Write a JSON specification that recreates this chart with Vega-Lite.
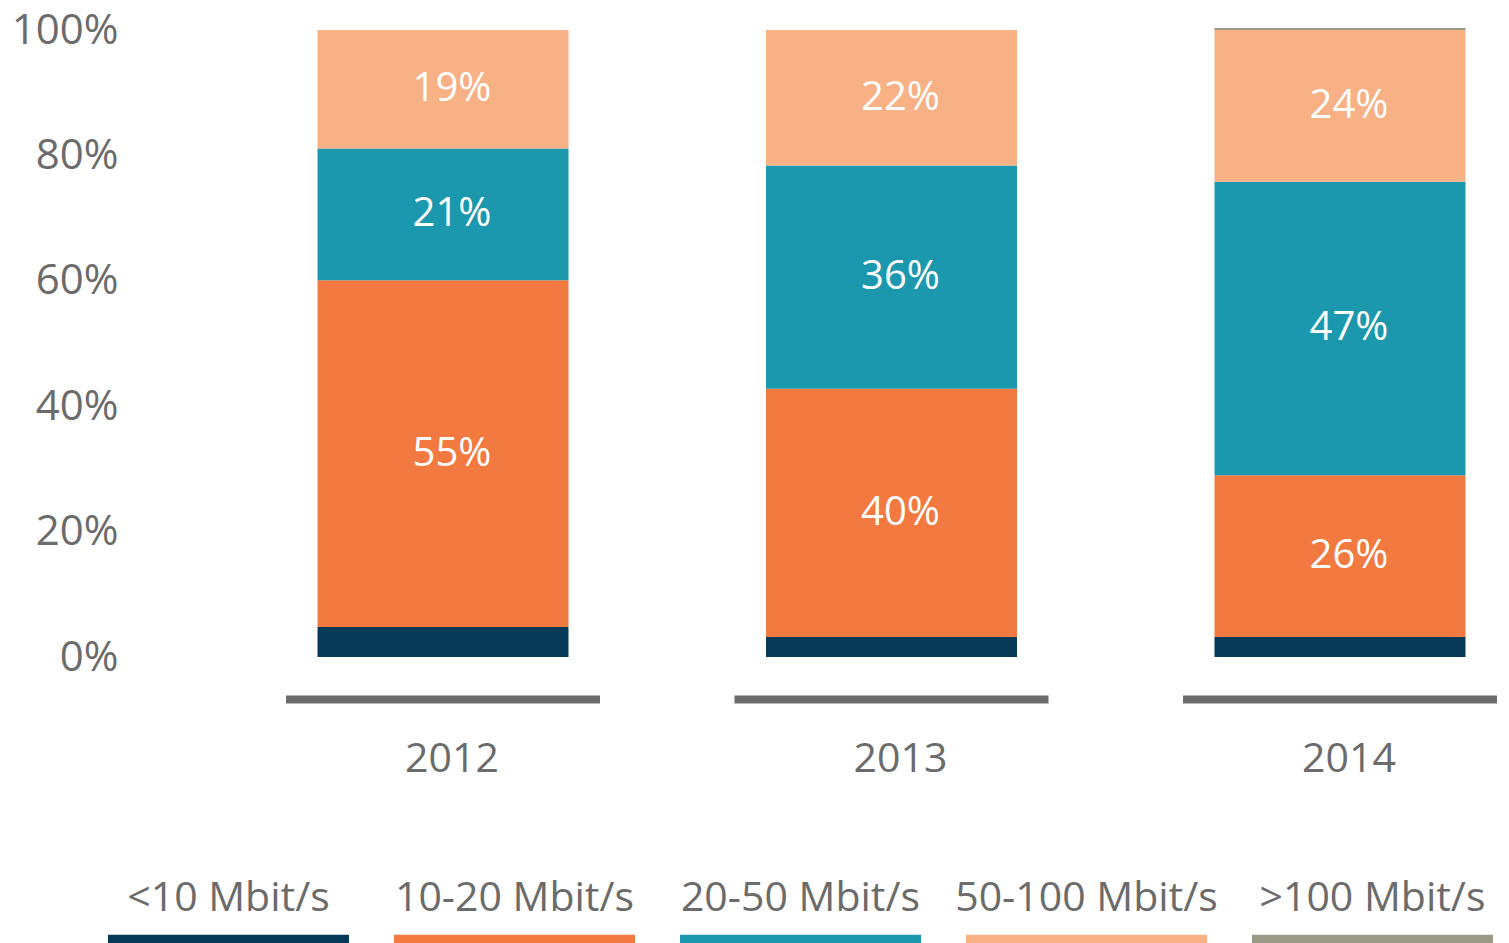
{
  "$schema": "https://vega.github.io/schema/vega-lite/v6.json",
  "autosize": {"type": "none"},
  "padding": {"left": 100, "top": 30, "right": 0, "bottom": 0},
  "width": 1409,
  "height": 913,
  "background": "white",
  "config": {
    "view": {"stroke": null},
    "font": "Open Sans",
    "axisY": {
      "labelFontSize": 42,
      "labelColor": "#6b6b6b",
      "labelFont": "Open Sans",
      "labelPadding": 0,
      "offset": -18,
      "labelOverlap": false,
      "ticks": false,
      "domain": false,
      "grid": false,
      "titleFontSize": 0,
      "titleOpacity": 0
    }
  },
  "datasets": {
    "shares": [
      {"year": "2012", "speed": "<10 Mbit/s", "rank": 1, "share": 0.048},
      {"year": "2012", "speed": "10-20 Mbit/s", "rank": 2, "share": 0.553},
      {"year": "2012", "speed": "20-50 Mbit/s", "rank": 3, "share": 0.210},
      {"year": "2012", "speed": "50-100 Mbit/s", "rank": 4, "share": 0.189},
      {"year": "2013", "speed": "<10 Mbit/s", "rank": 1, "share": 0.032},
      {"year": "2013", "speed": "10-20 Mbit/s", "rank": 2, "share": 0.396},
      {"year": "2013", "speed": "20-50 Mbit/s", "rank": 3, "share": 0.356},
      {"year": "2013", "speed": "50-100 Mbit/s", "rank": 4, "share": 0.216},
      {"year": "2014", "speed": "<10 Mbit/s", "rank": 1, "share": 0.032},
      {"year": "2014", "speed": "10-20 Mbit/s", "rank": 2, "share": 0.258},
      {"year": "2014", "speed": "20-50 Mbit/s", "rank": 3, "share": 0.468},
      {"year": "2014", "speed": "50-100 Mbit/s", "rank": 4, "share": 0.242},
      {"year": "2014", "speed": ">100 Mbit/s", "rank": 5, "share": 0.003}
    ],
    "years": [{"year": "2012"}, {"year": "2013"}, {"year": "2014"}],
    "speeds": [
      {"speed": "<10 Mbit/s"},
      {"speed": "10-20 Mbit/s"},
      {"speed": "20-50 Mbit/s"},
      {"speed": "50-100 Mbit/s"},
      {"speed": ">100 Mbit/s"}
    ]
  },
  "layer": [
    {
      "layer": [
        {
          "data": {"name": "shares"},
          "mark": {"type": "bar"},
          "encoding": {
            "x": {
              "field": "year",
              "type": "nominal",
              "scale": {"paddingInner": 0.4404, "paddingOuter": 0.291, "align": 0.8333},
              "axis": null
            },
            "y": {
              "field": "share",
              "type": "quantitative",
              "stack": "zero",
              "scale": {"domain": [-0.456, 1.0], "nice": false, "zero": false},
              "title": null,
              "axis": {"values": [0, 0.2, 0.4, 0.6, 0.8, 1], "format": ".0%"}
            },
            "color": {
              "field": "speed",
              "type": "nominal",
              "scale": {
                "domain": ["<10 Mbit/s", "10-20 Mbit/s", "20-50 Mbit/s", "50-100 Mbit/s", ">100 Mbit/s"],
                "range": ["#063a58", "#f2793f", "#1b98ad", "#f8b085", "#9a9a86"]
              },
              "legend": null
            },
            "order": {"field": "rank", "type": "quantitative"}
          }
        },
        {
          "data": {"name": "shares"},
          "mark": {"type": "text", "color": "white", "fontSize": 40, "dx": 9, "baseline": "middle"},
          "encoding": {
            "x": {"field": "year", "type": "nominal", "axis": null},
            "y": {"field": "share", "type": "quantitative", "stack": "zero", "bandPosition": 0.5, "title": null},
            "order": {"field": "rank", "type": "quantitative"},
            "opacity": {"condition": {"test": "datum.share < 0.1", "value": 0}, "value": 1},
            "text": {"field": "share", "type": "quantitative", "format": ".0%"}
          }
        },
        {
          "data": {"name": "years"},
          "mark": {"type": "tick", "size": 314, "thickness": 8, "color": "#6b6b6b", "opacity": 1},
          "encoding": {
            "x": {"field": "year", "type": "nominal", "axis": null},
            "y": {"datum": -0.0677, "type": "quantitative", "title": null}
          }
        },
        {
          "data": {"name": "years"},
          "mark": {"type": "text", "fontSize": 41, "color": "#6b6b6b", "baseline": "alphabetic", "dx": 9},
          "encoding": {
            "x": {"field": "year", "type": "nominal", "axis": null},
            "y": {"datum": -0.183, "type": "quantitative", "title": null},
            "text": {"field": "year", "type": "nominal"}
          }
        }
      ]
    },
    {
      "data": {"name": "speeds"},
      "layer": [
        {
          "mark": {"type": "bar"},
          "encoding": {
            "x": {
              "field": "speed",
              "type": "nominal",
              "scale": {
                "domain": ["<10 Mbit/s", "10-20 Mbit/s", "20-50 Mbit/s", "50-100 Mbit/s", ">100 Mbit/s"],
                "paddingInner": 0.1573,
                "paddingOuter": 0.042,
                "align": 0.333
              },
              "axis": null
            },
            "y": {"datum": -0.443, "type": "quantitative", "title": null},
            "y2": {"datum": -0.456},
            "color": {"field": "speed", "type": "nominal", "legend": null}
          }
        },
        {
          "mark": {"type": "text", "fontSize": 41, "color": "#6b6b6b", "baseline": "alphabetic"},
          "encoding": {
            "x": {"field": "speed", "type": "nominal", "axis": null},
            "y": {"datum": -0.405, "type": "quantitative", "title": null},
            "text": {"field": "speed", "type": "nominal"}
          }
        }
      ]
    }
  ],
  "resolve": {"scale": {"x": "independent"}}
}
